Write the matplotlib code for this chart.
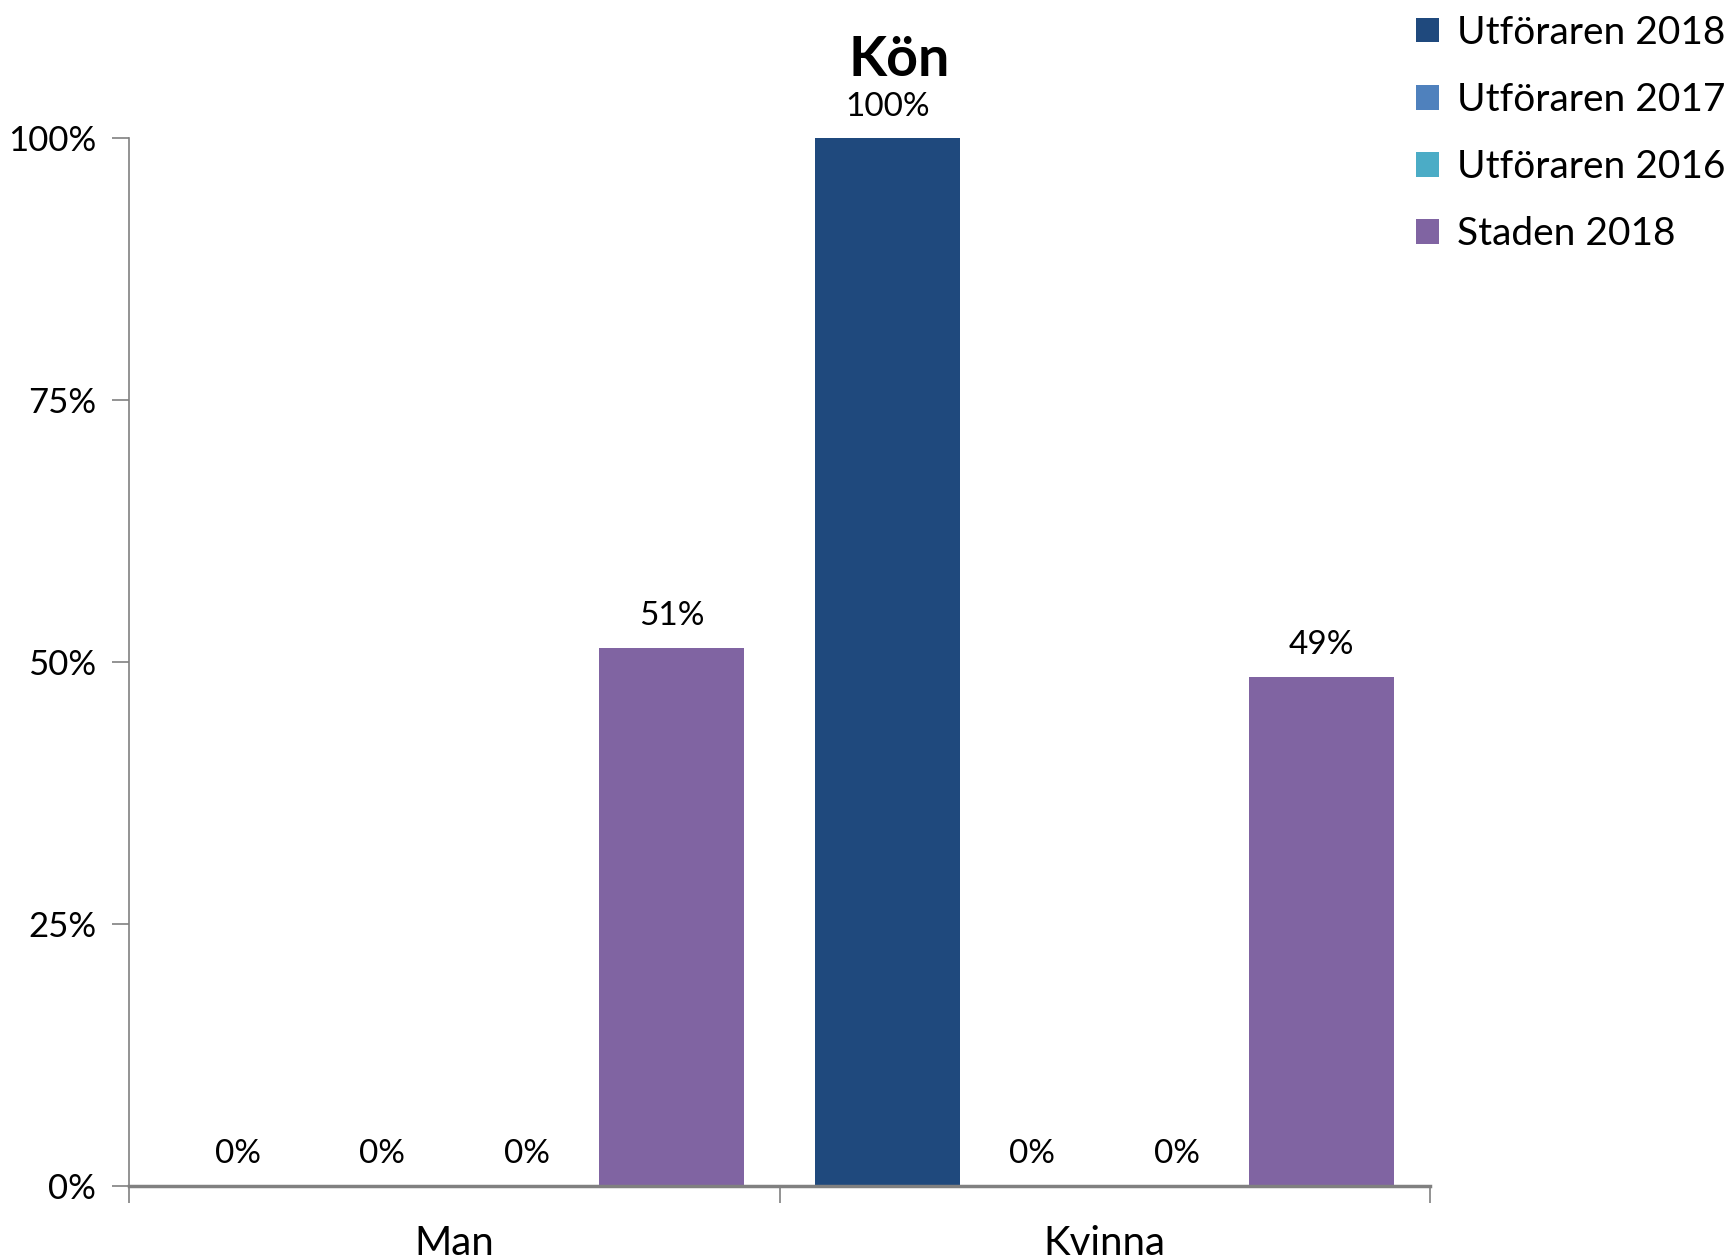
import matplotlib.pyplot as plt
import numpy as np

# data
categories = ["Man", "Kvinna"]
series_names = ["Utföraren 2018", "Utföraren 2017", "Utföraren 2016", "Staden 2018"]
utf_2018 = [0, 100]
utf_2017 = [0, 0]
utf_2016 = [0, 0]
staden_2018 = [51.4, 48.6]
y_ticks = [0, 25, 50, 75, 100]

colors = ["#1F497D", "#4F81BD", "#4BACC6", "#8064A2"]
plt.rcParams['font.family'] = ['Lato', 'DejaVu Sans']

fig = plt.figure(figsize=(17.35, 12.6), dpi=100)
ax = fig.add_axes([0.0746, 0.0587, 0.7494, 0.8315])

all_series = [utf_2018, utf_2017, utf_2016, staden_2018]
x = np.arange(len(categories))
width = 0.2225
offsets = [-1.5, -0.5, 0.5, 1.5]

for i in range(len(all_series)):
    vals = all_series[i]
    ax.bar(x + offsets[i] * width, vals, width, color=colors[i],
           label=series_names[i])
    # value label above every bar, also the empty ones
    for j in range(len(vals)):
        ax.annotate(str(round(vals[j])) + "%",
                    (x[j] + offsets[i] * width, vals[j]),
                    xytext=(0, 12), textcoords="offset points",
                    ha="center", va="bottom", fontsize=24)

ax.set_xlim(-0.5, 1.5)
ax.set_ylim(0, 100)
ax.set_yticks(y_ticks)
ax.set_yticklabels([str(t) + "%" for t in y_ticks], fontsize=25)
ax.set_xticks([-0.5, 0.5, 1.5])
ax.set_xticklabels([])
ax.set_xticks(x, minor=True)
ax.set_xticklabels(categories, minor=True, fontsize=29)
ax.tick_params(axis="x", which="minor", length=0, pad=28)
ax.tick_params(axis="x", which="major", length=12, color="#808080", width=1.2)
ax.tick_params(axis="y", length=12, color="#808080", width=1.2, pad=12)

ax.spines["top"].set_visible(False)
ax.spines["right"].set_visible(False)
ax.spines["left"].set_color("#808080")
ax.spines["left"].set_linewidth(1.2)
ax.spines["bottom"].set_color("#808080")
ax.spines["bottom"].set_linewidth(2.5)

fig.text(0.518, 0.952, "Kön", ha="center", va="center",
         fontsize=40, fontweight="bold")

fig.legend(loc="upper left", bbox_to_anchor=(0.796, 1.016), frameon=False,
           fontsize=28, handlelength=0.6, handleheight=0.6,
           handletextpad=0.45, labelspacing=0.8)

fig.savefig("out.png", dpi=100)
